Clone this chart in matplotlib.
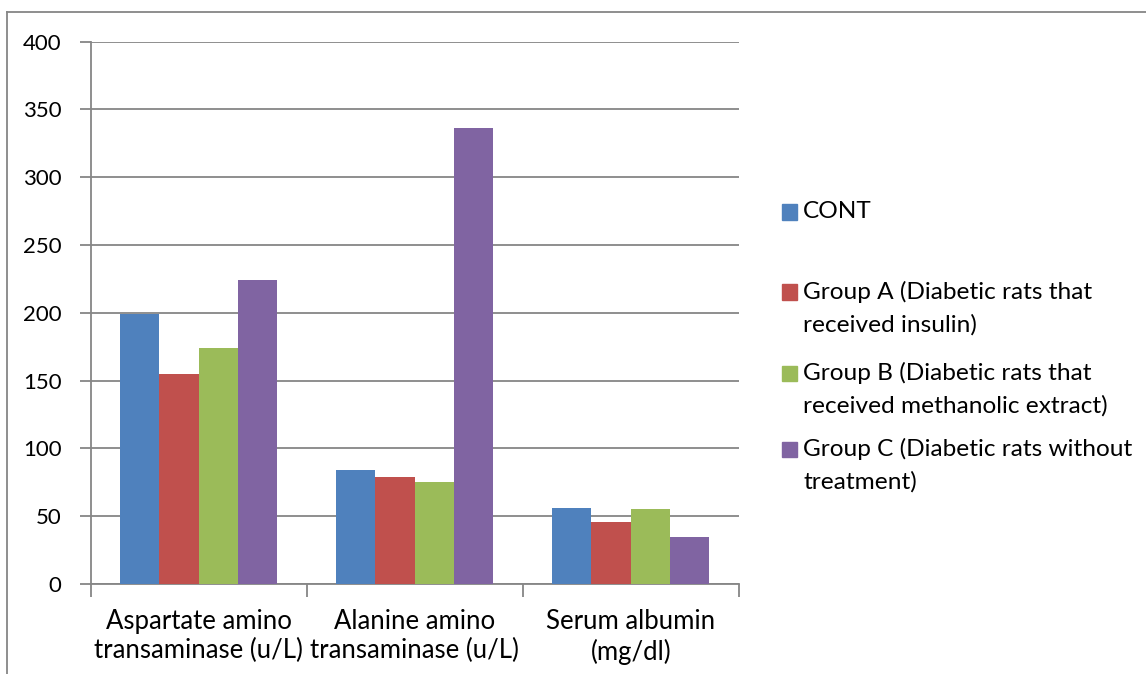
import numpy as np
import matplotlib
matplotlib.use("Agg")
import matplotlib.pyplot as plt
from matplotlib.lines import Line2D
from matplotlib.patches import Rectangle

plt.rcParams['font.family'] = ['Lato', 'DejaVu Sans']

# --- data -------------------------------------------------------------
categories = ["Aspartate amino\ntransaminase (u/L)",
              "Alanine amino\ntransaminase (u/L)",
              "Serum albumin\n(mg/dl)"]
series_names = ["CONT",
                "Group A (Diabetic rats that\nreceived insulin)",
                "Group B (Diabetic rats that\nreceived methanolic extract)",
                "Group C (Diabetic rats without\ntreatment)"]
cont_vals = [199, 84, 56]
group_a_vals = [155, 79, 46]
group_b_vals = [174, 75, 55]
group_c_vals = [224, 336, 35]
y_ticks = [0, 50, 100, 150, 200, 250, 300, 350, 400]

series_vals = [cont_vals, group_a_vals, group_b_vals, group_c_vals]
colors = ["#4F81BD", "#C0504D", "#9BBB59", "#8064A2"]
grid_gray = "#868686"

W, H = 1146, 674


def fx(px):
    return px / W


def fy(py):
    return 1 - py / H


fig = plt.figure(figsize=(W / 100, H / 100), dpi=100)
ax = fig.add_axes([fx(90.7), fy(584), fx(738.7) - fx(90.7), fy(41.6) - fy(584)])

# grouped bars
x = np.arange(len(categories))
bar_w = 0.1817
for i, (vals, col) in enumerate(zip(series_vals, colors)):
    ax.bar(x + (i - 1.5) * bar_w, vals, width=bar_w, color=col,
           edgecolor="none", zorder=3)

ax.set_xlim(-0.5, len(categories) - 0.5)
ax.set_ylim(0, 400)
ax.set_yticks(y_ticks)
ax.set_yticklabels([str(v) for v in y_ticks])
ax.yaxis.grid(True, color=grid_gray, lw=1.3, zorder=0)
ax.set_axisbelow(True)

# category labels centred, tick marks on the category boundaries
ax.set_xticks(x)
ax.set_xticklabels(categories, linespacing=1.22)
ax.set_xticks(np.arange(len(categories) + 1) - 0.5, minor=True)
ax.tick_params(axis='x', which='major', length=0, pad=18, labelsize=18.5,
               labelcolor="black")
ax.tick_params(axis='x', which='minor', length=9, width=1.3, color=grid_gray,
               direction='out')
ax.tick_params(axis='y', length=8, width=1.3, color=grid_gray, pad=13,
               labelsize=16, labelcolor="black")

for side in ("top", "right"):
    ax.spines[side].set_visible(False)
for side in ("left", "bottom"):
    ax.spines[side].set_color(grid_gray)
    ax.spines[side].set_linewidth(1.3)

# legend drawn as swatches plus text lines
legend_first_line_y = [212, 292, 373, 449]
line_step = 32.5
for name, col, y0 in zip(series_names, colors, legend_first_line_y):
    fig.add_artist(Rectangle((fx(782), fy(y0 + 7.5)), fx(15), 15 / H,
                             transform=fig.transFigure, color=col))
    for k, line in enumerate(name.split("\n")):
        fig.text(fx(803), fy(y0 + k * line_step), line, fontsize=17.6,
                 va='center', ha='left', color="black")

# outer chart frame (top and left edges)
fig.add_artist(Line2D([fx(7), 1], [fy(12), fy(12)], transform=fig.transFigure,
                      color=grid_gray, lw=1.3))
fig.add_artist(Line2D([fx(7), fx(7)], [fy(12), 0], transform=fig.transFigure,
                      color=grid_gray, lw=1.3))

fig.savefig("out.png", dpi=100, facecolor="white")
